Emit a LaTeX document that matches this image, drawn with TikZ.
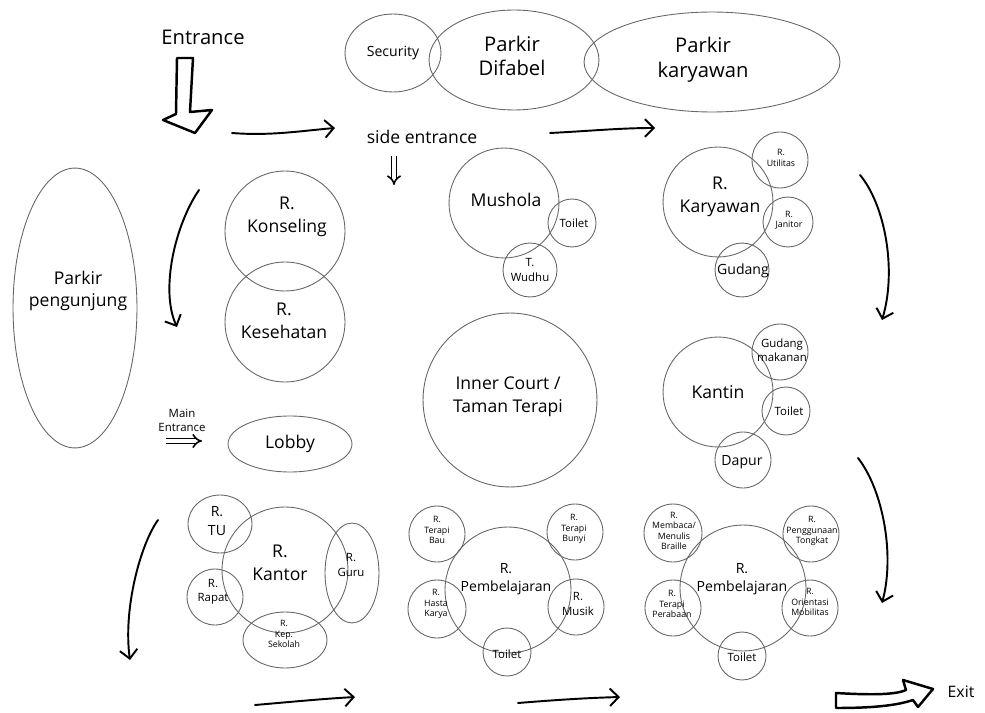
\documentclass[tikz,border=0pt]{standalone}
\usepackage{fontspec}
\setmainfont{Open Sans}
\usetikzlibrary{shapes.geometric,arrows.meta}
\begin{document}
\begin{tikzpicture}[x=0.02cm,y=-0.02cm,
  shp/.style={draw=black!60,line width=0.5pt,inner sep=0pt},
  rc/.style={shp,circle,minimum size=#1*0.04cm},
  el/.style 2 args={shp,ellipse,minimum width=#1*0.04cm,minimum height=#2*0.04cm},
  tx/.style={align=center,inner sep=0pt,text=black},
  fXL/.style={tx,font=\fontsize{11.5}{14}\selectfont},
  fL/.style={tx,font=\fontsize{10}{13}\selectfont},
  fM/.style={tx,font=\fontsize{8}{10.5}\selectfont},
  fS/.style={tx,font=\fontsize{6.5}{8}\selectfont},
  fXS/.style={tx,font=\fontsize{5}{6}\selectfont},
  flow/.style={line width=1.1pt,line cap=round,-{Straight Barb[length=5pt,width=10pt]}},
  dbl/.style={double,double distance=1.8pt,line width=0.9pt,-{Implies}},
  block/.style={line width=1.4pt,line join=round,fill=white}
]
\useasboundingbox (0,0) rectangle (985,713);

% ---------- top row ----------
\node[fXL] (tEntr) at (203,37) {Entrance};
\draw[block] (177,58) -- (193,58) -- (190,112) -- (212,110) -- (195,133) -- (163,120) -- (176,114) -- cycle;

\node[el={48}{39}] (sec) at (393,53) {};
\node[el={85}{50}] (pdif) at (514,60) {};
\node[el={128}{50}] (pkar) at (712,62) {};
\node[fM] (tSec) at (393,53) {Security};
\node[fXL] (tPdif) at (512,56) {Parkir\\Difabel};
\node[fXL] (tPkar) at (703,60) {Parkir\\karyawan};

\node[fL] (tSide) at (422,137) {side entrance};
\coordinate (se1) at (394,156); \coordinate (se2) at (394,185);
\draw[dbl] (se1) -- (se2);

\coordinate (a1s) at (232,133); \coordinate (a1e) at (335,128);
\draw[flow] (a1s) .. controls (270,136) and (300,131) .. (a1e);
\coordinate (a2s) at (550,133); \coordinate (a2e) at (655,128);
\draw[flow] (a2s) .. controls (590,131) and (620,128) .. (a2e);

% ---------- left column ----------
\node[el={62}{140}] (ppeng) at (75,308) {};
\node[fL] (tPpeng) at (78,291) {Parkir\\pengunjung};

\coordinate (l1s) at (199,190); \coordinate (l1e) at (177,327);
\draw[flow] (l1s) .. controls (175,225) and (160,290) .. (l1e);

\node[rc=60] (kons) at (285,231) {};
\node[rc=60] (kese) at (285,322) {};
\node[fL] (tKons) at (287,217) {R.\\Konseling};
\node[fL] (tKese) at (284,321) {R.\\Kesehatan};

\node[fS] (tMain) at (182,420) {Main\\Entrance};
\coordinate (me1) at (166,441); \coordinate (me2) at (202,441);
\draw[dbl] (me1) -- (me2);

\node[el={62}{28}] (lobby) at (290,444) {};
\node[fL] (tLobby) at (290,444) {Lobby};

% ---------- middle ----------
\node[rc=55] (mush) at (504,203) {};
\node[rc=24] (mtoi) at (572,223) {};
\node[rc=27] (wudh) at (530,270) {};
\node[fL] (tMush) at (506,200) {Mushola};
\node[fS] (tMtoi) at (574,223) {Toilet};
\node[fS] (tWudh) at (530,270) {T.\\Wudhu};

\node[rc=87] (inner) at (510,400) {};
\node[fL] (tInner) at (508,397) {Inner Court /\\Taman Terapi};

% ---------- right column ----------
\node[rc=55] (kary) at (718,202) {};
\node[rc=28] (util) at (780,160) {};
\node[rc=25] (jani) at (788,222) {};
\node[rc=27] (gud) at (742,270) {};
\node[fL] (tKary) at (720,197) {R.\\Karyawan};
\node[fXS] (tUtil) at (781,158) {R.\\Utilitas};
\node[fXS] (tJani) at (789,220) {R.\\Janitor};
\node[fM] (tGud) at (743,271) {Gudang};

\node[rc=55] (kant) at (718,392) {};
\node[rc=28] (gmak) at (780,352) {};
\node[rc=24] (ktoi) at (786,411) {};
\node[rc=28] (dapur) at (743,460) {};
\node[fL] (tKant) at (718,392) {Kantin};
\node[fS] (tGmak) at (782,350) {Gudang\\makanan};
\node[fS] (tKtoi) at (789,411) {Toilet};
\node[fM] (tDapur) at (742,462) {Dapur};

\coordinate (r1s) at (860,175); \coordinate (r1e) at (882,320);
\draw[flow] (r1s) .. controls (885,205) and (897,270) .. (r1e);
\coordinate (r2s) at (858,458); \coordinate (r2e) at (882,603);
\draw[flow] (r2s) .. controls (883,490) and (895,555) .. (r2e);

% ---------- bottom row ----------
\coordinate (l2s) at (158,520); \coordinate (l2e) at (130,660);
\draw[flow] (l2s) .. controls (140,545) and (123,610) .. (l2e);

\node[rc=63] (kantor) at (285,570) {};
\node[el={32}{29}] (tu) at (220,524) {};
\node[rc=28] (rapat) at (215,597) {};
\node[el={27}{50}] (guru) at (352,573) {};
\node[el={42}{28}] (kep) at (285,640) {};
\node[fL] (tKantor) at (280,563) {R.\\Kantor};
\node[fM] (tTu) at (217,521) {R.\\TU};
\node[fS] (tRapat) at (213,592) {R.\\Rapat};
\node[fS] (tGuru) at (351,565) {R.\\Guru};
\node[fXS] (tKep) at (284,634) {R.\\Kep.\\Sekolah};

\node[rc=63] (pemb1) at (508,590) {};
\node[rc=28] (bau) at (437,534) {};
\node[rc=28] (bunyi) at (575,532) {};
\node[rc=29] (hasta) at (437,609) {};
\node[rc=28] (musik) at (576,607) {};
\node[rc=24] (ptoi1) at (507,652) {};
\node[fM] (tPemb1) at (506,579) {R.\\Pembelajaran};
\node[fXS] (tBau) at (437,530) {R.\\Terapi\\Bau};
\node[fXS] (tBunyi) at (574,529) {R.\\Terapi\\Bunyi};
\node[fXS] (tHasta) at (436,604) {R.\\Hasta\\Karya};
\node[fS] (tMusik) at (578,604) {R.\\Musik};
\node[fS] (tPtoi1) at (507,654) {Toilet};

\node[rc=63] (pemb2) at (743,588) {};
\node[rc=29] (memb) at (673,533) {};
\node[rc=28] (tongk) at (811,534) {};
\node[rc=28] (raba) at (673,608) {};
\node[rc=28] (orien) at (810,608) {};
\node[rc=24] (ptoi2) at (742,656) {};
\node[fM] (tPemb2) at (742,579) {R.\\Pembelajaran};
\node[fXS] (tMemb) at (674,531) {R.\\Membaca/\\Menulis\\Braille};
\node[fXS] (tTongk) at (812,531) {R.\\Penggunaan\\Tongkat};
\node[fXS] (tRaba) at (672,604) {R.\\Terapi\\Perabaan};
\node[fXS] (tOrien) at (810,602) {R.\\Orientasi\\Mobilitas};
\node[fS] (tPtoi2) at (742,657) {Toilet};

\coordinate (b1s) at (255,705); \coordinate (b1e) at (355,697);
\draw[flow] (b1s) .. controls (290,702) and (320,699) .. (b1e);
\coordinate (b2s) at (518,703); \coordinate (b2e) at (620,697);
\draw[flow] (b2s) .. controls (555,700) and (585,698) .. (b2e);

\draw[block] (836,693) .. controls (870,695) and (895,695) .. (906,690) -- (903,680) -- (933,689) -- (918,707) -- (913,700) .. controls (895,706) and (870,708) .. (836,708) -- cycle;
\node[fM, font=\fontsize{9}{10}\selectfont] (tExit) at (961,692) {Exit};
\end{tikzpicture}
\end{document}
